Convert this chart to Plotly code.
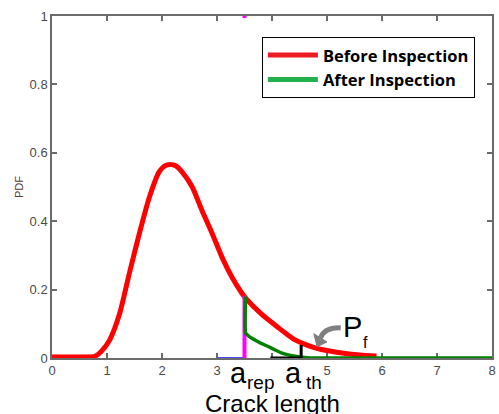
import plotly.graph_objects as go

# --- data -------------------------------------------------------------
before_x = [0.0, 0.3, 0.6, 0.78, 0.9, 1.05, 1.23, 1.41, 1.59, 1.77, 1.95, 2.05, 2.15,
            2.25, 2.36, 2.55, 2.73, 2.91, 3.09, 3.27, 3.45, 3.52, 3.81, 4.12, 4.3, 4.42,
            4.6, 4.8, 5.02, 5.3, 5.6, 5.9]
before_y = [0.003, 0.003, 0.003, 0.005, 0.02, 0.053, 0.13, 0.25, 0.365, 0.47, 0.545, 0.562, 0.566,
            0.562, 0.545, 0.50, 0.43, 0.365, 0.295, 0.237, 0.19, 0.175, 0.128, 0.088, 0.066, 0.053,
            0.040, 0.029, 0.021, 0.014, 0.009, 0.006]

after_x = [3.52, 3.52, 3.6, 3.7, 3.8, 3.94, 4.05, 4.17, 4.3, 4.42, 4.55, 4.7, 8.0]
after_y = [0.18, 0.073, 0.061, 0.052, 0.043, 0.033, 0.024, 0.015, 0.009, 0.005, 0.002, 0.0, 0.0]

a_rep = 3.5
a_th = 4.53
pdf_at_rep = 0.182
pdf_at_th = 0.038

blue_x = [0.0, 0.3, None, 3.0, a_rep]
blue_y = [0.0, 0.0, None, 0.0, 0.0]

black_x = [3.97, a_th, a_th]
black_y = [0.0, 0.0, pdf_at_th]

x_ticks = [0, 1, 2, 3, 4, 5, 6, 7, 8]
x_tick_text = ["0", "1", "2", "3", "", "5", "6", "7", "8"]
y_ticks = [0, 0.2, 0.4, 0.6, 0.8, 1]
y_tick_text = ["0", "0.2", "0.4", "0.6", "0.8", "1"]

legend_names = ["Before Inspection", "After Inspection"]

# --- figure -----------------------------------------------------------
fig = go.Figure()

fig.add_trace(go.Scatter(x=blue_x, y=blue_y, mode="lines",
                         line=dict(color="#4a4aff", width=2), showlegend=False, hoverinfo="skip"))
fig.add_trace(go.Scatter(x=before_x, y=before_y, mode="lines",
                         line=dict(color="#ff0000", width=5, shape="spline", smoothing=0.6),
                         showlegend=False))
fig.add_trace(go.Scatter(x=[a_rep, a_rep, None, a_rep, a_rep], y=[0, pdf_at_rep, None, 0.994, 1.0],
                         mode="lines", line=dict(color="#ff00ff", width=4),
                         showlegend=False, hoverinfo="skip"))
fig.add_trace(go.Scatter(x=after_x, y=after_y, mode="lines",
                         line=dict(color="#008000", width=3.5, shape="spline", smoothing=0.4),
                         showlegend=False))
fig.add_trace(go.Scatter(x=black_x, y=black_y, mode="lines",
                         line=dict(color="#000000", width=3), showlegend=False, hoverinfo="skip"))

# legend entries
fig.add_trace(go.Scatter(x=[None], y=[None], mode="lines", name=legend_names[0],
                         line=dict(color="#ed1c24", width=5)))
fig.add_trace(go.Scatter(x=[None], y=[None], mode="lines", name=legend_names[1],
                         line=dict(color="#22b14c", width=5)))

axis_col = "#6b6b6b"
tick_font = dict(family="Liberation Sans, Arial", size=13, color="#4a4a4a")

fig.update_layout(
    width=499, height=414,
    margin=dict(l=52, r=3, t=16, b=56),
    paper_bgcolor="white", plot_bgcolor="white",
    showlegend=True,
    legend=dict(x=0.477, y=0.939, xanchor="left", yanchor="top",
                bordercolor="black", borderwidth=1, bgcolor="white",
                font=dict(family="Open Sans", size=16.5, color="black", weight="bold"),
                tracegroupgap=0, itemwidth=50),
    xaxis=dict(range=[0, 8], tickvals=x_ticks, ticktext=x_tick_text,
               showgrid=False, zeroline=False, showline=True, linecolor=axis_col, linewidth=1.5,
               mirror="ticks", ticks="inside", ticklen=5, tickcolor=axis_col, tickwidth=1.5,
               tickfont=tick_font, layer="below traces"),
    yaxis=dict(range=[0, 1], tickvals=y_ticks, ticktext=y_tick_text,
               showgrid=False, zeroline=False, showline=True, linecolor=axis_col, linewidth=1.5,
               mirror="ticks", ticks="inside", ticklen=5, tickcolor=axis_col, tickwidth=1.5,
               tickfont=tick_font, layer="below traces",
               title=dict(text="PDF", font=dict(family="Liberation Sans, Arial", size=11, color="#553a3a"),
                          standoff=4)),
)

big = dict(family="Liberation Sans, Arial", color="black")
# label positions: x in data units, y in paper units (below the axis)
anns = [
    dict(text="a", x=3.39, y=-0.043, size=29, yref="paper"),
    dict(text="rep", x=3.79, y=-0.072, size=19, yref="paper"),
    dict(text="a", x=4.39, y=-0.043, size=29, yref="paper"),
    dict(text="th", x=4.77, y=-0.072, size=19, yref="paper"),
    dict(text="P", x=5.47, y=0.092, size=29, yref="y"),
    dict(text="f", x=5.7, y=0.045, size=16, yref="y"),
]
for a in anns:
    fig.add_annotation(text=a["text"], x=a["x"], y=a["y"], xref="x", yref=a["yref"],
                       showarrow=False, xanchor="center", yanchor="middle",
                       font=dict(size=a["size"], **big))
fig.add_annotation(text="Crack length", x=0.5, y=-0.132, xref="paper", yref="paper",
                   showarrow=False, xanchor="center", yanchor="middle",
                   font=dict(family="Liberation Sans, Arial", size=24, color="black"))

# curved grey arrow pointing to P_f region
fig.add_shape(type="path", xref="x", yref="y",
              path="M 5.25,0.088 Q 4.95,0.09 4.88,0.058",
              line=dict(color="#808080", width=5))
fig.add_shape(type="path", xref="x", yref="y",
              path="M 4.76,0.071 L 5.0,0.047 L 4.82,0.033 Z",
              fillcolor="#808080", line=dict(color="#808080", width=1))

fig.write_html("out.html")
